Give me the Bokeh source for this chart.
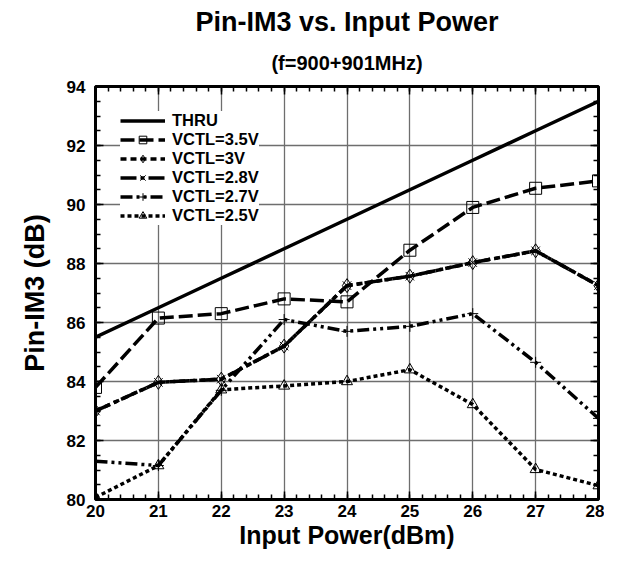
from bokeh.plotting import figure
from bokeh.models import Title, LinearAxis, Range1d, FixedTicker
from bokeh.embed import file_html
from bokeh.resources import INLINE

# ---- data ----
input_power = [20, 21, 22, 23, 24, 25, 26, 27, 28]
thru      = [85.5, 86.5, 87.5, 88.5, 89.5, 90.5, 91.5, 92.5, 93.5]
vctl_3_5  = [83.8, 86.15, 86.3, 86.8, 86.7, 88.45, 89.9, 90.55, 90.8]
vctl_3_0  = [83.0, 83.97, 84.08, 85.2, 87.25, 87.57, 88.03, 88.43, 87.25]
vctl_2_8  = [83.0, 83.97, 84.08, 85.2, 87.25, 87.57, 88.03, 88.43, 87.25]
vctl_2_7  = [81.3, 81.15, 83.7, 86.1, 85.7, 85.87, 86.3, 84.65, 82.75]
vctl_2_5  = [80.07, 81.15, 83.72, 83.85, 84.0, 84.4, 83.22, 81.02, 80.47]
x_ticks = [20, 21, 22, 23, 24, 25, 26, 27, 28]
y_ticks = [80, 82, 84, 86, 88, 90, 92, 94]

FONT = "Liberation Sans"
X_MINOR = [20 + i * 0.2 for i in range(41)]
Y_MINOR = [80 + i * 0.5 for i in range(29)]

p = figure(width=604, height=551, output_backend="svg", toolbar_location=None,
           x_range=Range1d(20, 28), y_range=Range1d(80, 94),
           min_border_left=95, min_border_right=6, min_border_top=86, min_border_bottom=40,
           title=None)

xax = p.below[0]
yax = p.left[0]

# top / right tick-only axes (added first so they hug the frame)
for loc, ticks, minors in (("above", x_ticks, X_MINOR), ("right", y_ticks, Y_MINOR)):
    ax = LinearAxis(ticker=FixedTicker(ticks=ticks, minor_ticks=minors))
    ax.axis_line_color = None
    ax.major_tick_in = 8
    ax.major_tick_out = 0
    ax.minor_tick_in = 5
    ax.minor_tick_out = 0
    ax.major_tick_line_width = 1.5
    ax.minor_tick_line_width = 1.5
    ax.major_label_overrides = {t: "" for t in ticks}
    ax.major_label_text_font_size = "0px"
    ax.major_label_standoff = 0
    p.add_layout(ax, loc)

p.add_layout(Title(text="(f=900+901MHz)", align="center", text_font=FONT, text_color="black",
                   text_font_size="20px", text_font_style="bold", standoff=26), "above")
p.add_layout(Title(text="Pin-IM3 vs. Input Power", align="center", text_font=FONT, text_color="black",
                   text_font_size="27px", text_font_style="bold", standoff=0), "above")

p.outline_line_color = "black"
p.outline_line_width = 3
p.background_fill_color = "white"
p.border_fill_color = "white"

for ax in (xax, yax):
    ax.axis_line_color = None
    ax.major_tick_in = 8
    ax.major_tick_out = 0
    ax.minor_tick_in = 5
    ax.minor_tick_out = 0
    ax.major_tick_line_width = 1.5
    ax.minor_tick_line_width = 1.5
    ax.major_label_text_font = FONT
    ax.major_label_text_font_style = "bold"
    ax.major_label_text_font_size = "17px"
    ax.major_label_text_color = "black"
    ax.axis_label_text_font = FONT
    ax.axis_label_text_font_style = "bold"
    ax.axis_label_text_color = "black"

xax.ticker = FixedTicker(ticks=x_ticks, minor_ticks=X_MINOR)
yax.ticker = FixedTicker(ticks=y_ticks, minor_ticks=Y_MINOR)
xax.axis_label = "Input Power(dBm)"
yax.axis_label = "Pin-IM3 (dB)"
xax.axis_label_text_font_size = "25px"
yax.axis_label_text_font_size = "27px"
xax.major_label_standoff = 5
yax.major_label_standoff = 10
xax.axis_label_standoff = 1
yax.axis_label_standoff = 14

p.xgrid.ticker = FixedTicker(ticks=x_ticks)
p.ygrid.ticker = FixedTicker(ticks=y_ticks)
p.grid.grid_line_color = "#6e6e6e"
p.grid.grid_line_width = 1.3

LW = 3.5
p.line(input_power, thru, line_color="black", line_width=LW, legend_label="THRU")

p.line(input_power, vctl_3_5, line_color="black", line_width=LW, line_dash="14 5",
       legend_label="VCTL=3.5V")
p.scatter(input_power, vctl_3_5, marker="square", size=12, fill_color="white", fill_alpha=0,
          line_color="black", line_width=1, legend_label="VCTL=3.5V")

p.line(input_power, vctl_3_0, line_color="black", line_width=LW, line_dash="6 4",
       legend_label="VCTL=3V")
p.scatter(input_power, vctl_3_0, marker="diamond", size=14, fill_color="white", fill_alpha=0,
          line_color="black", line_width=1, legend_label="VCTL=3V")

p.line(input_power, vctl_2_8, line_color="black", line_width=LW, line_dash="16 4 4 4",
       legend_label="VCTL=2.8V")
p.scatter(input_power, vctl_2_8, marker="x", size=12, line_color="black", line_width=1,
          legend_label="VCTL=2.8V")

p.line(input_power, vctl_2_7, line_color="black", line_width=LW, line_dash="12 4 3 4 3 4",
       legend_label="VCTL=2.7V")
p.scatter(input_power, vctl_2_7, marker="cross", size=11, line_color="black", line_width=1,
          legend_label="VCTL=2.7V")

p.line(input_power, vctl_2_5, line_color="black", line_width=LW, line_dash="4 3",
       legend_label="VCTL=2.5V")
p.scatter(input_power, vctl_2_5, marker="triangle", size=11, fill_color="white", fill_alpha=0,
          line_color="black", line_width=1, legend_label="VCTL=2.5V")

lg = p.legend[0]
lg.location = "top_left"
lg.margin = 25
lg.padding = 4
lg.spacing = 0
lg.label_height = 19
lg.glyph_height = 19
lg.glyph_width = 45
lg.label_standoff = 7
lg.label_text_font = FONT
lg.label_text_font_style = "bold"
lg.label_text_font_size = "16.5px"
lg.label_text_color = "black"
lg.border_line_color = None
lg.background_fill_color = "white"
lg.background_fill_alpha = 1

open("out.html", "w").write(file_html(p, INLINE))
